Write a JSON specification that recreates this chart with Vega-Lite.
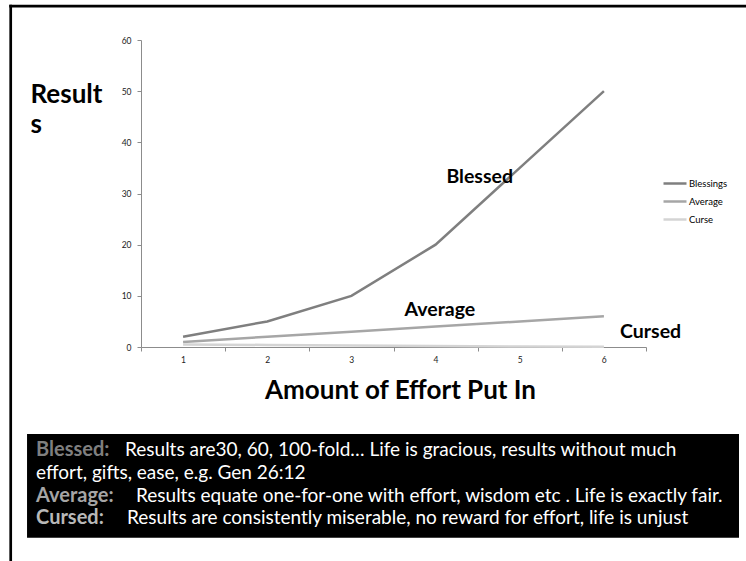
{
  "$schema": "https://vega.github.io/schema/vega-lite/v6.json",
  "width": 505,
  "height": 307,
  "autosize": {"type": "none"},
  "padding": {"left": 141, "top": 40, "right": 100, "bottom": 214},
  "background": "white",
  "config": {"font": "Lato", "view": {"stroke": null}},
  "layer": [
    {
      "data": {"values": [{"t": "frame"}]},
      "mark": {"type": "rule", "color": "black", "strokeWidth": 2.7, "clip": false},
      "encoding": {
        "x": {"datum": -1.065, "type": "quantitative"},
        "x2": {"datum": 7.7},
        "y": {"datum": 66.64, "type": "quantitative"}
      }
    },
    {
      "data": {"values": [{"t": "frame"}]},
      "mark": {"type": "rule", "color": "black", "strokeWidth": 2.7, "clip": false},
      "encoding": {
        "x": {"datum": -1.048, "type": "quantitative"},
        "y": {"datum": 66.9, "type": "quantitative"},
        "y2": {"datum": -42.5}
      }
    },
    {
      "data": {
        "values": [
          {"effort": 1, "series": "Blessings", "results": 2},
          {"effort": 2, "series": "Blessings", "results": 5},
          {"effort": 3, "series": "Blessings", "results": 10},
          {"effort": 4, "series": "Blessings", "results": 20},
          {"effort": 5, "series": "Blessings", "results": 35},
          {"effort": 6, "series": "Blessings", "results": 50},
          {"effort": 1, "series": "Average", "results": 1},
          {"effort": 2, "series": "Average", "results": 2},
          {"effort": 3, "series": "Average", "results": 3},
          {"effort": 4, "series": "Average", "results": 4},
          {"effort": 5, "series": "Average", "results": 5},
          {"effort": 6, "series": "Average", "results": 6},
          {"effort": 1, "series": "Curse", "results": 0.5},
          {"effort": 2, "series": "Curse", "results": 0.4},
          {"effort": 3, "series": "Curse", "results": 0.3},
          {"effort": 4, "series": "Curse", "results": 0.2},
          {"effort": 5, "series": "Curse", "results": 0.1},
          {"effort": 6, "series": "Curse", "results": 0.05}
        ]
      },
      "mark": {"type": "line", "strokeWidth": 2.5},
      "encoding": {
        "x": {
          "field": "effort",
          "type": "quantitative",
          "scale": {"domain": [0.5, 6.5], "nice": false, "zero": false},
          "axis": {
            "values": [0.5, 1.5, 2.5, 3.5, 4.5, 5.5, 6.5],
            "labelExpr": "datum.value < 6 ? '' + (datum.value + 0.5) : ''",
            "labelOffset": 42,
            "labelOverlap": false,
            "labelBound": false,
            "labelFlush": false,
            "labelFontSize": 8.5,
            "labelColor": "#222",
            "labelPadding": 4,
            "tickSize": 4,
            "tickColor": "#8c8c8c",
            "domainColor": "#8c8c8c",
            "grid": false,
            "title": "Amount of Effort Put In",
            "titleFontSize": 26,
            "titleFontWeight": "bold",
            "titleColor": "black",
            "titleX": 259,
            "titleY": 51,
            "titleAlign": "center",
            "titleBaseline": "alphabetic"
          }
        },
        "y": {
          "field": "results",
          "type": "quantitative",
          "scale": {"domain": [0, 60], "nice": false},
          "axis": {
            "values": [0, 10, 20, 30, 40, 50, 60],
            "labelFontSize": 8.5,
            "labelColor": "#222",
            "labelPadding": 6,
            "tickSize": 4,
            "tickColor": "#8c8c8c",
            "domainColor": "#8c8c8c",
            "gridColor": "#a6a6a6",
            "gridWidth": 1,
            "title": ["Result", "s"],
            "titleAngle": 0,
            "titleFontSize": 26,
            "titleFontWeight": "bold",
            "titleColor": "black",
            "titleAlign": "left",
            "titleBaseline": "alphabetic",
            "titleLineHeight": 30,
            "titleX": -111,
            "titleY": 62
          }
        },
        "color": {
          "field": "series",
          "type": "nominal",
          "scale": {"domain": ["Blessings", "Average", "Curse"], "range": ["#7f7f7f", "#a6a6a6", "#d4d4d4"]},
          "legend": {
            "title": null,
            "orient": "none",
            "legendX": 521,
            "legendY": 130.5,
            "symbolType": "stroke",
            "symbolSize": 529,
            "symbolStrokeWidth": 2.5,
            "labelFontSize": 9.5,
            "labelColor": "black",
            "labelOffset": 1,
            "rowPadding": -5,
            "padding": 0
          }
        }
      }
    },
    {
      "data": {"values": [{"t": "Blessed"}]},
      "mark": {"type": "text", "fontSize": 19.5, "fontWeight": "bold", "align": "left", "baseline": "alphabetic", "color": "black"},
      "encoding": {
        "x": {"datum": 4.129, "type": "quantitative"},
        "y": {"datum": 32.05, "type": "quantitative"},
        "text": {"field": "t"}
      }
    },
    {
      "data": {"values": [{"t": "Average"}]},
      "mark": {"type": "text", "fontSize": 19.5, "fontWeight": "bold", "align": "left", "baseline": "alphabetic", "color": "black"},
      "encoding": {
        "x": {"datum": 3.631, "type": "quantitative"},
        "y": {"datum": 6.06, "type": "quantitative"},
        "text": {"field": "t"}
      }
    },
    {
      "data": {"values": [{"t": "Cursed"}]},
      "mark": {"type": "text", "fontSize": 19.5, "fontWeight": "bold", "align": "left", "baseline": "alphabetic", "color": "black", "clip": false},
      "encoding": {
        "x": {"datum": 6.192, "type": "quantitative"},
        "y": {"datum": 1.76, "type": "quantitative"},
        "text": {"field": "t"}
      }
    },
    {
      "data": {"values": [{"t": "box"}]},
      "mark": {"type": "rect", "color": "black", "clip": false},
      "encoding": {
        "x": {"datum": -0.854, "type": "quantitative"},
        "x2": {"datum": 7.605},
        "y": {"datum": -17.0, "type": "quantitative"},
        "y2": {"datum": -37.3}
      }
    },
    {
      "data": {"values": [{"t": "Blessed:"}]},
      "mark": {"type": "text", "fontSize": 20, "fontWeight": "bold", "align": "left", "baseline": "alphabetic", "color": "#7f7f7f"},
      "encoding": {
        "x": {"datum": -0.747, "type": "quantitative"},
        "y": {"datum": -21.3, "type": "quantitative"},
        "text": {"field": "t"}
      }
    },
    {
      "data": {"values": [{"t": "Results are30, 60, 100-fold… Life is gracious, results without much"}]},
      "mark": {"type": "text", "fontSize": 19, "align": "left", "baseline": "alphabetic", "color": "white"},
      "encoding": {
        "x": {"datum": 0.3099, "type": "quantitative"},
        "y": {"datum": -21.3, "type": "quantitative"},
        "text": {"field": "t"}
      }
    },
    {
      "data": {"values": [{"t": "effort, gifts, ease, e.g. Gen 26:12"}]},
      "mark": {"type": "text", "fontSize": 19, "align": "left", "baseline": "alphabetic", "color": "white"},
      "encoding": {
        "x": {"datum": -0.747, "type": "quantitative"},
        "y": {"datum": -25.8, "type": "quantitative"},
        "text": {"field": "t"}
      }
    },
    {
      "data": {"values": [{"t": "Average:"}]},
      "mark": {"type": "text", "fontSize": 20, "fontWeight": "bold", "align": "left", "baseline": "alphabetic", "color": "#a5a5a5"},
      "encoding": {
        "x": {"datum": -0.747, "type": "quantitative"},
        "y": {"datum": -30.2, "type": "quantitative"},
        "text": {"field": "t"}
      }
    },
    {
      "data": {"values": [{"t": "Results equate one-for-one with effort, wisdom etc . Life is exactly fair."}]},
      "mark": {"type": "text", "fontSize": 19, "align": "left", "baseline": "alphabetic", "color": "white"},
      "encoding": {
        "x": {"datum": 0.4406, "type": "quantitative"},
        "y": {"datum": -30.2, "type": "quantitative"},
        "text": {"field": "t"}
      }
    },
    {
      "data": {"values": [{"t": "Cursed:"}]},
      "mark": {"type": "text", "fontSize": 20, "fontWeight": "bold", "align": "left", "baseline": "alphabetic", "color": "#b8b8b8"},
      "encoding": {
        "x": {"datum": -0.747, "type": "quantitative"},
        "y": {"datum": -34.6, "type": "quantitative"},
        "text": {"field": "t"}
      }
    },
    {
      "data": {"values": [{"t": "Results are consistently miserable, no reward for effort, life is unjust"}]},
      "mark": {"type": "text", "fontSize": 19, "align": "left", "baseline": "alphabetic", "color": "white"},
      "encoding": {
        "x": {"datum": 0.3337, "type": "quantitative"},
        "y": {"datum": -34.6, "type": "quantitative"},
        "text": {"field": "t"}
      }
    }
  ]
}
